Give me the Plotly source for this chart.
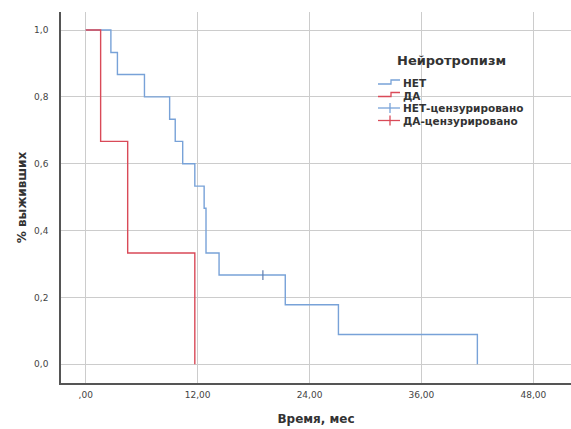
import plotly.graph_objects as go

# ---- data ----
net_time = [0, 2.7, 3.4, 6.3, 9.0, 9.6, 10.4, 11.7, 12.7, 12.9, 14.3, 21.4, 27.1, 42.0]
net_surv = [1.0, 0.933, 0.867, 0.8, 0.733, 0.667, 0.6, 0.533, 0.467, 0.333, 0.267, 0.178, 0.089, 0.0]
da_time = [0, 1.6, 4.5, 11.7]
da_surv = [1.0, 0.667, 0.333, 0.0]
net_cens_time = [19.0]
net_cens_surv = [0.267]

x_ticks = [0, 12, 24, 36, 48]
x_tick_labels = [",00", "12,00", "24,00", "36,00", "48,00"]
y_ticks = [0.0, 0.2, 0.4, 0.6, 0.8, 1.0]
y_tick_labels = ["0,0", "0,2", "0,4", "0,6", "0,8", "1,0"]

legend_title = "Нейротропизм"
legend_labels = ["НЕТ", "ДА", "НЕТ-цензурировано", "ДА-цензурировано"]

BLUE = "#78a2d8"
RED = "#d94a58"
TXT = "#333333"
FONT = "DejaVu Sans"

W, H = 571, 429
ML, MR, MT, MB = 61, 0, 12, 46
PW, PH = W - ML - MR, H - MT - MB

def px(x):
    return (x - ML) / PW

def py(y):
    return (H - MB - y) / PH

fig = go.Figure()
fig.add_trace(go.Scatter(x=net_time, y=net_surv, mode="lines", line=dict(color=BLUE, width=1.4, shape="hv"),
                         name=legend_labels[0], showlegend=False))
fig.add_trace(go.Scatter(x=da_time, y=da_surv, mode="lines", line=dict(color=RED, width=1.4, shape="hv"),
                         name=legend_labels[1], showlegend=False))
fig.add_trace(go.Scatter(x=net_cens_time, y=net_cens_surv, mode="markers",
                         marker=dict(symbol="line-ns-open", size=7, color="#5f7cae",
                                     line=dict(color="#5f7cae", width=1.2)),
                         name=legend_labels[2], showlegend=False))

# ---- manual legend (SPSS style) ----
shapes = []
annotations = []
annotations.append(dict(x=px(395), y=py(61), xref="paper", yref="paper", text="<b>" + legend_title + "</b>",
                        showarrow=False, xanchor="left", yanchor="middle",
                        font=dict(family=FONT, size=13, color=TXT)))
rows = [83, 95.5, 108, 120.5]
colors = [BLUE, RED, BLUE, RED]
for i, (lab, ry, c) in enumerate(zip(legend_labels, rows, colors)):
    annotations.append(dict(x=px(401), y=py(ry), xref="paper", yref="paper", text="<b>" + lab + "</b>",
                            showarrow=False, xanchor="left", yanchor="middle",
                            font=dict(family=FONT, size=10.5, color=TXT)))
    if i < 2:
        path = "M {} {} L {} {} L {} {} L {} {}".format(px(378), py(ry + 1), px(391), py(ry + 1),
                                                     px(391), py(ry - 3), px(400), py(ry - 3))
        shapes.append(dict(type="path", path=path, xref="paper", yref="paper",
                           line=dict(color=c, width=1.3)))
    else:
        shapes.append(dict(type="line", x0=px(378), x1=px(400), y0=py(ry), y1=py(ry),
                           xref="paper", yref="paper", line=dict(color=c, width=1.3)))
        shapes.append(dict(type="line", x0=px(390), x1=px(390), y0=py(ry - 5), y1=py(ry + 5),
                           xref="paper", yref="paper", line=dict(color=c, width=1.3)))

fig.update_layout(
    width=W, height=H,
    margin=dict(l=ML, r=MR, t=MT, b=MB, pad=0, autoexpand=False),
    paper_bgcolor="white", plot_bgcolor="white",
    showlegend=False,
    shapes=shapes, annotations=annotations,
    font=dict(family=FONT, color=TXT),
)
fig.update_xaxes(
    range=[-2.65, 52.04], tickvals=x_ticks, ticktext=x_tick_labels,
    showgrid=True, gridcolor="#cccccc", gridwidth=1, zeroline=False,
    showline=True, linecolor="#555555", linewidth=1.5,
    ticks="outside", ticklen=2, tickcolor="rgba(0,0,0,0)",
    tickfont=dict(family=FONT, size=9, color="#444444"),
    title=dict(text="<b>Время, мес</b>", font=dict(family=FONT, size=12, color=TXT), standoff=16),
    automargin=False,
)
fig.update_yaxes(
    range=[-0.056, 1.054], tickvals=y_ticks, ticktext=y_tick_labels,
    showgrid=True, gridcolor="#cccccc", gridwidth=1, zeroline=False,
    showline=True, linecolor="#555555", linewidth=1.5,
    ticks="outside", ticklen=9, tickcolor="rgba(0,0,0,0)",
    tickfont=dict(family=FONT, size=9, color="#444444"),
    title=dict(text="<b>% выживших</b>", font=dict(family=FONT, size=12, color=TXT), standoff=5),
    automargin=False,
)

fig.write_html("out.html", config={"displayModeBar": False},
               post_script="document.body.style.margin='0';document.body.style.overflow='hidden';")
